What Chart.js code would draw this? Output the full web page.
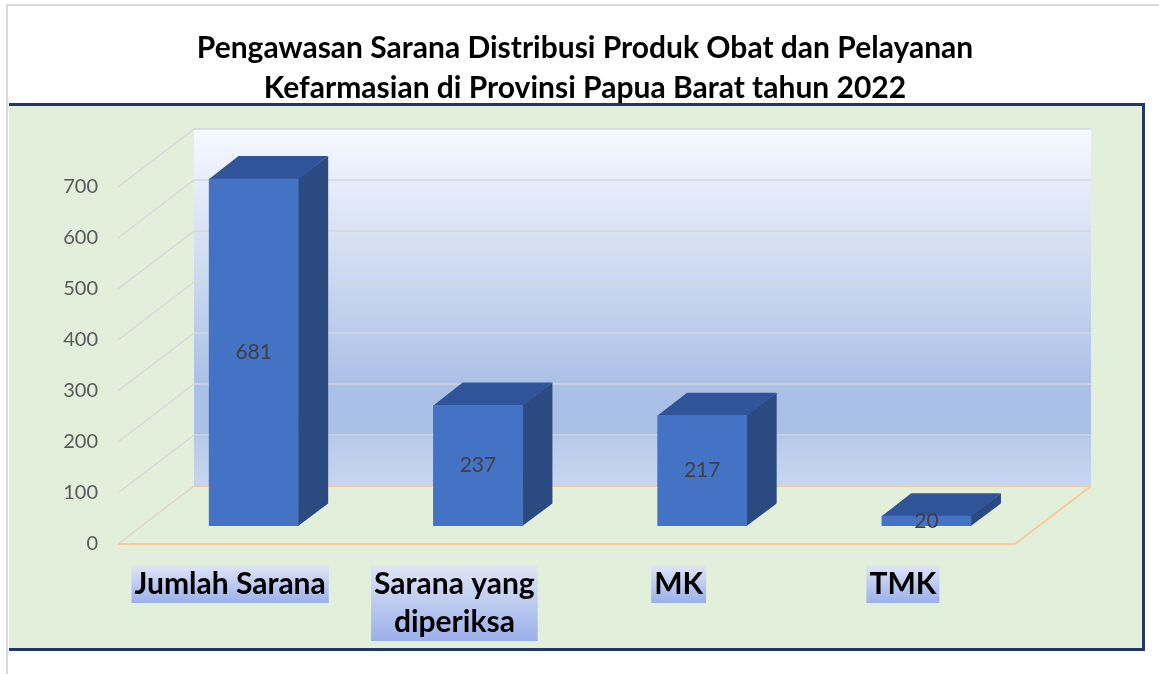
<!DOCTYPE html>
<html>
<head>
<meta charset="utf-8">
<script src="https://cdn.jsdelivr.net/npm/chart.js@4.4.0/dist/chart.umd.min.js"></script>
<style>
html,body{margin:0;padding:0;background:#fff;}
#wrap{width:1159px;height:674px;}
canvas{display:block;}
</style>
</head>
<body>
<div id="wrap"><canvas id="c" width="1159" height="674"></canvas></div>
<script>
// ---- data ----
const titleLines = ['Pengawasan Sarana Distribusi Produk Obat dan Pelayanan', 'Kefarmasian di Provinsi Papua Barat tahun 2022'];
const categories = [['Jumlah Sarana'], ['Sarana yang', 'diperiksa'], ['MK'], ['TMK']];
const values = [681, 237, 217, 20];
const yTicks = [0, 100, 200, 300, 400, 500, 600, 700];

// ---- 3D look (styling only) ----
const DX = 76, DY = -58;          // floor depth offset
const BAR_FRONT = 0.31, BAR_DEPTH = 0.39;
const FONT = 'Lato, "Open Sans", sans-serif';
const X_FONT_SIZE = 30, X_LINE = 38, X_PAD = 21;

function line(ctx, x1, y1, x2, y2) { ctx.beginPath(); ctx.moveTo(x1, y1); ctx.lineTo(x2, y2); ctx.stroke(); }

const scene = {
  id: 'scene',
  beforeDraw(chart) {
    const ctx = chart.ctx, a = chart.chartArea, ys = chart.scales.y, xs = chart.scales.x;
    ctx.save();
    ctx.fillStyle = '#fff';
    ctx.fillRect(0, 0, chart.width, chart.height);
    // page border
    ctx.strokeStyle = '#D9D9D9'; ctx.lineWidth = 2;
    ctx.beginPath(); ctx.moveTo(7, 674); ctx.lineTo(7, 5); ctx.lineTo(1159, 5); ctx.stroke();
    // green panel
    ctx.fillStyle = '#E2EFDA';
    ctx.fillRect(9, 104, 1134, 545);
    ctx.strokeStyle = '#1F3864'; ctx.lineWidth = 3;
    ctx.beginPath(); ctx.moveTo(9, 104.5); ctx.lineTo(1143.5, 104.5); ctx.lineTo(1143.5, 649.5); ctx.lineTo(9, 649.5); ctx.stroke();

    // back wall
    const y0 = ys.getPixelForValue(0), yT = ys.getPixelForValue(yTicks[yTicks.length - 1]);
    const bl = a.left + DX, br = a.right + DX, bt = yT + DY, bb = y0 + DY;
    const g = ctx.createLinearGradient(0, bt, 0, bb);
    g.addColorStop(0, '#F6F9FE');
    g.addColorStop(0.72, '#ABC0E6');
    g.addColorStop(0.855, '#AAC0E6');
    g.addColorStop(0.87, '#B9CBEB');
    g.addColorStop(1, '#C7D6EF');
    ctx.fillStyle = g;
    ctx.fillRect(bl, bt, br - bl, bb - bt);

    // gridlines
    ctx.lineWidth = 1.5;
    yTicks.forEach(v => {
      const py = ys.getPixelForValue(v);
      ctx.strokeStyle = v === 0 ? '#E3D3C6' : '#D9D9D9';
      line(ctx, a.left, py, a.left + DX, py + DY);
      if (v > 0) { ctx.strokeStyle = '#D3D6DD'; line(ctx, bl, py + DY, br, py + DY); }
    });
    // floor edges
    ctx.strokeStyle = '#F8C99B'; ctx.lineWidth = 2;
    line(ctx, bl, bb, br, bb);
    line(ctx, a.left, y0, a.right, y0);
    line(ctx, a.right, y0, br, bb);

    // category label backdrops
    ctx.font = 'bold ' + X_FONT_SIZE + 'px ' + FONT;
    categories.forEach((lab, i) => {
      const px = xs.getPixelForTick(i);
      const w = Math.max(...lab.map(s => ctx.measureText(s).width)) + 6;
      const top = a.bottom + 21, h = lab.length * X_LINE;
      const lg = ctx.createLinearGradient(0, top, 0, top + h);
      lg.addColorStop(0, '#DFE6F6');
      lg.addColorStop(1, '#9BB0EA');
      ctx.fillStyle = lg;
      ctx.fillRect(px - w / 2, top, w, h);
    });
    ctx.restore();
  }
};

const bars3d = {
  id: 'bars3d',
  beforeDatasetsDraw(chart) {
    const ctx = chart.ctx, meta = chart.getDatasetMeta(0);
    const sx = DX * BAR_FRONT, sy = DY * BAR_FRONT, dx = DX * BAR_DEPTH, dy = DY * BAR_DEPTH;
    ctx.save();
    meta.data.forEach(b => {
      const p = b.getProps(['x', 'y', 'base', 'width'], true);
      const L = p.x - p.width / 2 + sx, R = p.x + p.width / 2 + sx, T = p.y + sy, B = p.base + sy;
      ctx.fillStyle = '#2B4A80';
      ctx.beginPath(); ctx.moveTo(R - 0.5, T); ctx.lineTo(R + dx, T + dy); ctx.lineTo(R + dx, B + dy); ctx.lineTo(R - 0.5, B); ctx.closePath(); ctx.fill();
      ctx.fillStyle = '#30549A';
      ctx.beginPath(); ctx.moveTo(L, T + 0.5); ctx.lineTo(L + dx, T + dy); ctx.lineTo(R + dx, T + dy); ctx.lineTo(R, T + 0.5); ctx.closePath(); ctx.fill();
    });
    ctx.restore();
    ctx.save();
    ctx.translate(sx, sy);
  },
  afterDatasetsDraw(chart) {
    const ctx = chart.ctx, meta = chart.getDatasetMeta(0);
    ctx.restore();
    const sx = DX * BAR_FRONT, sy = DY * BAR_FRONT;
    ctx.save();
    ctx.font = '21px ' + FONT;
    ctx.fillStyle = '#404040';
    ctx.textAlign = 'center';
    ctx.textBaseline = 'middle';
    meta.data.forEach((b, i) => {
      const p = b.getProps(['x', 'y', 'base'], true);
      ctx.fillText(String(values[i]), p.x + sx, (p.y + p.base) / 2 + sy);
    });
    ctx.restore();
  }
};

new Chart(document.getElementById('c'), {
  type: 'bar',
  data: {
    labels: categories,
    datasets: [{
      data: values,
      backgroundColor: '#4472C4',
      borderWidth: 0,
      barPercentage: 0.4,
      categoryPercentage: 1.0,
      clip: false
    }]
  },
  options: {
    responsive: false,
    animation: false,
    devicePixelRatio: 1,
    layout: { padding: { left: 11, right: 0, top: 0, bottom: 0 } },
    plugins: {
      legend: { display: false },
      tooltip: { enabled: false },
      title: {
        display: true,
        text: titleLines,
        color: '#000',
        font: { family: FONT, size: 30, weight: 'bold', lineHeight: 40 / 30 },
        padding: { top: 28, bottom: 79 }
      }
    },
    scales: {
      x: {
        offset: true,
        grid: { display: false, drawTicks: false },
        border: { display: false },
        ticks: {
          color: '#000',
          font: { family: FONT, size: X_FONT_SIZE, weight: 'bold', lineHeight: X_LINE / X_FONT_SIZE },
          padding: X_PAD,
          maxRotation: 0,
          autoSkip: false
        },
        afterFit(s) { s.height = 130; }
      },
      y: {
        min: 0,
        max: 700,
        afterBuildTicks(s) { s.ticks = yTicks.map(v => ({ value: v })); },
        grid: { display: false, drawTicks: false },
        border: { display: false },
        ticks: { color: '#595959', font: { family: FONT, size: 20 }, padding: 20 },
        afterFit(s) { s.width = 107; }
      },
      y2: {
        position: 'right',
        display: true,
        grid: { display: false, drawTicks: false },
        border: { display: false },
        ticks: { display: false },
        afterFit(s) { s.width = 144; }
      }
    }
  },
  plugins: [scene, bars3d]
});
</script>
</body>
</html>
